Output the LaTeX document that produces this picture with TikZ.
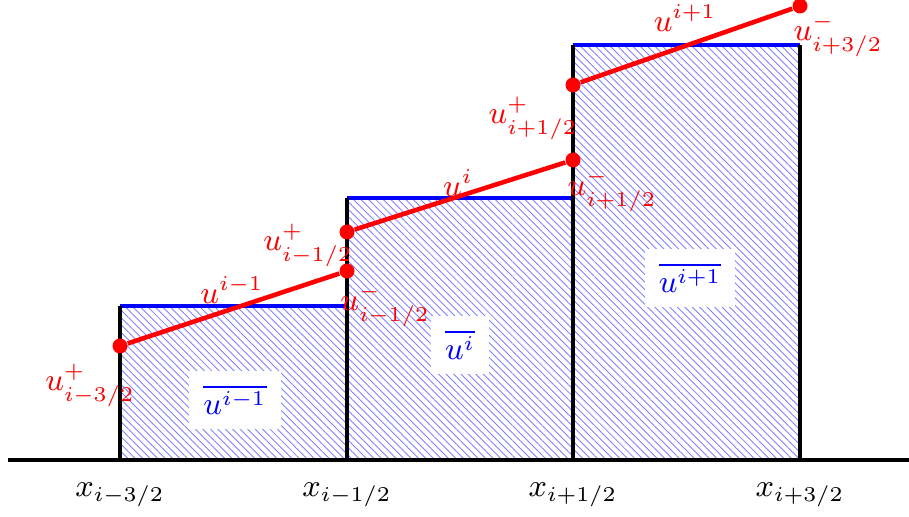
\documentclass[tikz,border=0pt]{standalone}
\usepackage{amsmath,amssymb}
\usepackage{xcolor}
\usepackage{tikz}
\usetikzlibrary{patterns.meta,positioning,calc}

\begin{document}
\begin{tikzpicture}[
  font=\small,
  cell/.style={pattern={Lines[angle=-45, distance=1.5pt, line width=0.25pt]}, pattern color=blue!50},
  edge/.style={line width=1.1pt},
  cavg/.style={fill=white, inner sep=4pt, text=blue},
  rec/.style={red, line width=1.3pt},
  pt/.style={circle, fill=red, inner sep=0pt, minimum size=0.15cm},
  rlab/.style={text=red, inner sep=1pt}
]
\useasboundingbox (0,0) rectangle (9.09,5.17);
% cell corners
\coordinate (b0) at (1.20,0.57);
\coordinate (b1) at (3.47,0.57);
\coordinate (b2) at (5.73,0.57);
\coordinate (b3) at (8.00,0.57);
\coordinate (t1l) at (1.20,2.11);
\coordinate (t1r) at (3.47,2.11);
\coordinate (t2l) at (3.47,3.19);
\coordinate (t2r) at (5.73,3.19);
\coordinate (t3l) at (5.73,4.72);
\coordinate (t3r) at (8.00,4.72);
\coordinate (axl) at (0.08,0.57);
\coordinate (axr) at (9.09,0.57);
% hatched cells
\fill[cell] (b0) rectangle (t1r);
\fill[cell] (b1) rectangle (t2r);
\fill[cell] (b2) rectangle (t3r);
\draw[edge, blue] (t1l) -- (t1r);
\draw[edge, blue] (t2l) -- (t2r);
\draw[edge, blue] (t3l) -- (t3r);
\draw[edge] (b0) -- (t1l);
\draw[edge] (b1) -- (t2l);
\draw[edge] (b2) -- (t3l);
\draw[edge] (b3) -- (t3r);
\draw[edge] (axl) -- (axr);
% cell averages
\node[cavg] (a1) at (2.35,1.17) {$\overline{u^{i-1}}$};
\node[cavg] (a2) at (4.60,1.72) {$\overline{u^{i}}$};
\node[cavg] (a3) at (6.90,2.39) {$\overline{u^{i+1}}$};
% interface abscissae
\node (x0) at (1.20,0.22) {$x_{i-3/2}$};
\node (x1) at (3.47,0.22) {$x_{i-1/2}$};
\node (x2) at (5.73,0.22) {$x_{i+1/2}$};
\node (x3) at (8.00,0.22) {$x_{i+3/2}$};
% reconstructions
\node[pt] (p0) at (1.20,1.71) {};
\node[pt] (m1) at (3.47,2.46) {};
\node[pt] (p1) at (3.47,2.85) {};
\node[pt] (m2) at (5.73,3.57) {};
\node[pt] (p2) at (5.73,4.32) {};
\node[pt] (m3) at (8.00,5.11) {};
\draw[rec] (p0) -- (m1);
\draw[rec] (p1) -- (m2);
\draw[rec] (p2) -- (m3);
\node[rlab] at (2.32,2.27) {$u^{i-1}$};
\node[rlab] at (4.58,3.34) {$u^{i}$};
\node[rlab] at (6.85,4.99) {$u^{i+1}$};
\node[rlab] at (0.90,1.32) {$u^{+}_{i-3/2}$};
\node[rlab] at (3.85,2.12) {$u^{-}_{i-1/2}$};
\node[rlab] at (3.08,2.72) {$u^{+}_{i-1/2}$};
\node[rlab] at (6.12,3.27) {$u^{-}_{i+1/2}$};
\node[rlab] at (5.33,3.99) {$u^{+}_{i+1/2}$};
\node[rlab] at (8.38,4.82) {$u^{-}_{i+3/2}$};
\end{tikzpicture}
\end{document}
